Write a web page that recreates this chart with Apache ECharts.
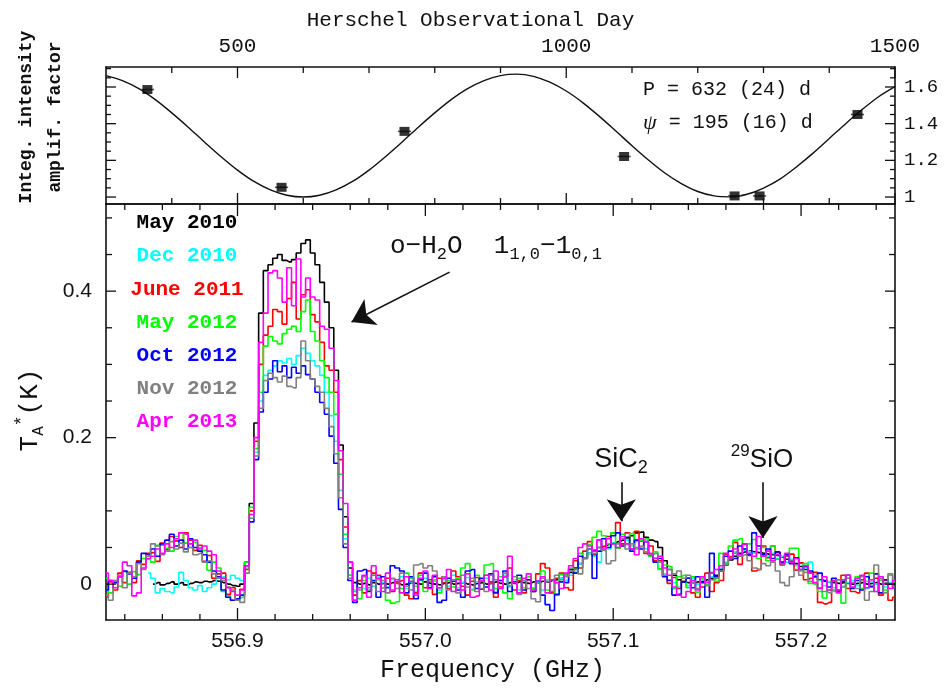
<!DOCTYPE html>
<html>
<head>
<meta charset="utf-8">
<script src="https://cdn.jsdelivr.net/npm/echarts@6.0.0/dist/echarts.min.js"></script>
<style>
  html, body { margin: 0; padding: 0; background: #ffffff; }
  #chart { width: 944px; height: 692px; }
</style>
</head>
<body>
<div id="chart"></div>
<script>
// ---------------------------------------------------------------------------
// Upper panel: integrated-intensity amplification factor vs. Herschel day
// ---------------------------------------------------------------------------
const obsDay    = [363, 567, 754, 1088, 1256, 1294, 1443];
const obsAmp    = [1.586, 1.053, 1.358, 1.221, 1.006, 1.006, 1.450];
const obsDayErr = [10, 10, 10, 10, 10, 10, 10];

// sinusoidal fit, sampled every 25 days
const fitDay = [300, 325, 350, 375, 400, 425, 450, 475, 500, 525, 550, 575, 600, 625, 650, 675,
                700, 725, 750, 775, 800, 825, 850, 875, 900, 925, 950, 975, 1000, 1025, 1050, 1075,
                1100, 1125, 1150, 1175, 1200, 1225, 1250, 1275, 1300, 1325, 1350, 1375, 1400, 1425,
                1450, 1475, 1500];
const fitAmp = [1.662, 1.635, 1.591, 1.531, 1.459, 1.381, 1.299, 1.220, 1.147, 1.085, 1.039, 1.010,
                1.000, 1.010, 1.039, 1.085, 1.147, 1.220, 1.299, 1.381, 1.459, 1.531, 1.591, 1.635,
                1.662, 1.670, 1.658, 1.626, 1.578, 1.515, 1.441, 1.361, 1.280, 1.202, 1.131, 1.073,
                1.030, 1.006, 1.001, 1.015, 1.049, 1.098, 1.164, 1.238, 1.319, 1.400, 1.477, 1.547,
                1.602];

const dayLabelTicks = [500, 1000, 1500];
const dayMinorTicks = [400, 600, 700, 800, 900, 1100, 1200, 1300, 1400];
const ampLabelTicks = [1, 1.2, 1.4, 1.6];
const ampMinorTicks = [1.05, 1.1, 1.15, 1.25, 1.3, 1.35, 1.45, 1.5, 1.55, 1.65, 1.7];

// ---------------------------------------------------------------------------
// Lower panel: HIFI spectra around the o-H2O 1(1,0)-1(0,1) line
// antenna temperature in mK, channels of 2.5 MHz starting at 556.830 GHz
// ---------------------------------------------------------------------------
const freqStart = 556.830;
const chanWidth = 0.0025;

const seriesNames  = ['May 2010', 'Dec 2010', 'June 2011', 'May 2012', 'Oct 2012', 'Nov 2012', 'Apr 2013'];
const seriesColors = ['#000000', '#00ffff', '#ff0000', '#00ff00', '#0000ff', '#808080', '#ff00ff'];

const may2010 = [
  null, null, null, null, null, null, null, null, null, null,
  0, 2, -1, 1, 3, 0, 2, -1, 1, 3,
  2, 4, 3, 5, 4, 2, 0, -2, -3, 0,
  30, 110, 220, 370, 428, 436, 445, 450, 442, 440,
  443, 452, 465, 470, 452, 436, 412, 385, 350, 292,
  190, 92, 22, 2, 0, 1, -1, 2, 0, 1,
  0, 2, 1, -1, 0, 2, 1, 0, 3, 1,
  0, -1, 1, 2, 0, 1, 2, 0, -1, 1,
  2, 0, 1, 3, 1, 0, 2, 1, 3, 2,
  1, 3, 2, 4, 3, 5, 6, 8, 12, 16,
  22, 28, 36, 42, 46, 50, 52, 54, 56, 58,
  60, 63, 66, 70, 71, 64, 60, 58, 50, 32,
  20, 12, 6, 3, 2, 2, 3, 4, 6, 8,
  12, 18, 26, 33, 38, 42, 44, 45, 44, 43,
  42, 41, 40, 39, 37, 34, 31, 28, 24, 20,
  15, 10, 6, 4, 3, 2, 1, 2, 1, 0,
  1, 2, 0, 1, 2, 0, 1, 0, 1
];
const dec2010 = [
  null, null, null, null, null, null, null, null, null, 15,
  8, -12, -6, -10, -12, -4, 16, 5, -5, -8,
  -2, -10, -5, 0, 8, 10, 6, 12, 8, 5,
  22, 95, 180, 250, 285, 292, 298, 305, 302, 308,
  300, 312, 322, 315, 305, 298, 285, 262, 230, 195,
  128, 62, 12, -8, 4, -6, 8, -3, 10, 2,
  -4, 6, 2, 10, -6, 3, -10, 5, 8, -2,
  4, -8, 6, -3, 12, -5, 2, 9, -7, 3,
  -6, 8, 2, -10, 5, 12, -4, 6, -8, 4,
  10, -5, 3, -8, 6, -12, 2, 8, 5, 12,
  20, 28, 35, 42, 38, 30, 52, 48, 56, 50,
  55, 60, 52, 58, 50, 48, 40, 36, 20, 14,
  6, 2, -4, 4, -2, 8, 0, 6, 3, 10,
  10, 22, 30, 38, 44, 40, 46, 44, 42, 48,
  40, 38, 42, 35, 38, 30, 34, 25, 28, 22,
  30, 10, 5, -2, 3, -5, 6, -3, 2, 5,
  -2, 4, -6, 3, 0, 6, -4, 2, 5
];
const june2011 = [
  -18, 3, -8, 15, 2, 16, 2, 32, 27, 42,
  43, 31, 56, 47, 65, 59, 50, 70, 60, 46,
  53, 31, 39, 8, 14, 15, -14, -5, -22, -7,
  20, 100, 195, 300, 340, 352, 375, 372, 355, 390,
  412, 362, 395, 402, 368, 358, 330, 298, 292, 262,
  170, 78, 30, -15, 5, -12, 18, 15, 12, -5,
  8, -10, 3, 5, -15, -20, -12, 15, -5, 6,
  -14, 8, 2, -6, 18, 10, -3, -15, 4, 9,
  -7, 12, 3, -18, -4, 10, 22, -8, 5, -12,
  6, -10, 14, 28, 22, -12, 8, 15, -5, -8,
  32, 22, 45, 58, 40, 60, 51, 65, 70, 84,
  55, 70, 48, 72, 59, 42, 52, 32, 32, 11,
  1, 9, -6, 4, 8, -12, -18, -4, 15, -10,
  2, 5, 41, 37, 57, 27, 54, 39, 18, 20,
  52, 36, 52, 43, 26, 38, 41, 19, 29, 6,
  8, 16, -25, -27, -25, 5, -8, 12, -6, -10,
  -12, 6, 15, -4, 8, -15, 5, -22, -18
];
const may2012 = [
  8, -12, 3, -3, 17, 0, 17, 13, 35, 34,
  30, 53, 53, 49, 45, 65, 70, 56, 50, 57,
  50, 46, 19, 30, 22, -10, -16, -22, -20, -18,
  30, 105, 185, 262, 325, 338, 332, 328, 342, 348,
  352, 345, 372, 388, 345, 332, 305, 282, 262, 232,
  150, 68, 12, -10, -20, 5, -8, 12, 6, -5,
  -22, -26, -24, -6, 15, 8, -3, 12, -10, 4,
  6, -12, 10, 5, -4, 8, 22, 28, -8, 12,
  5, 26, 28, -6, 10, -12, -20, 3, 8, -5,
  10, -6, 4, 18, -8, 6, -15, 13, 12, 22,
  16, 42, 36, 54, 64, 72, 66, 55, 70, 49,
  68, 54, 69, 48, 60, 62, 38, 44, 21, 26,
  24, -6, 10, 12, -5, 10, -11, 8, -1, 16,
  4, 42, 27, 52, 60, 62, 48, 55, 61, 35,
  50, 32, 52, 34, 28, 39, 49, 49, 18, 28,
  1, 0, -10, -19, -8, -10, 6, -26, 8, -4,
  10, -6, 4, 15, -10, 5, -8, 12, 3
];
const oct2012 = [
  -8, 5, 2, 10, 18, 14, 8, 30, 42, 40,
  48, 38, 55, 60, 68, 52, 60, 48, 62, 50,
  45, 40, 30, 18, 10, -8, -18, -22, -20, -15,
  25, 85, 170, 235, 262, 280, 305, 290, 298, 282,
  296, 288, 298, 286, 280, 262, 248, 232, 202, 165,
  102, 50, 5, -25, 18, 20, -10, 5, -18, 10,
  -5, 25, 22, 18, -12, 10, -20, 6, 15, -5,
  10, -25, -22, 8, 4, -8, -18, 18, 20, -6,
  8, -4, 14, -12, 5, 18, -10, 3, 12, -8,
  6, -10, 4, -15, -28, -36, -14, 3, 2, 20,
  15, 38, 35, 48, 8, 45, 62, 50, 66, 70,
  52, 64, 45, 60, 48, 58, 40, 30, 35, 10,
  5, -15, -14, 3, 8, -5, 10, 2, -18, 42,
  10, 20, 38, 45, 35, 52, 48, 40, 70, 52,
  40, 48, 35, 44, 30, 40, 28, 36, 20, 24,
  18, 10, 15, 5, -4, 8, -10, 4, 12, -6,
  5, -8, 10, -3, 14, -12, 6, 0, -5
];
const nov2012 = [
  -15, -22, 5, 12, -5, 15, 10, 28, 20, 38,
  55, 52, 40, 45, 58, 48, 56, 44, 50, 40,
  42, 30, 32, 14, 8, 5, -4, -8, -22, -25,
  15, 90, 175, 240, 278, 288, 282, 276, 284, 270,
  268, 282, 332, 305, 280, 270, 262, 240, 215, 178,
  118, 55, 8, -22, -8, 10, -5, 12, -10, 5,
  -12, 8, -6, 15, -3, -8, 26, 28, 22, 25,
  18, -5, 10, -8, 6, -12, 12, -4, 8, -10,
  4, -10, 12, 6, -6, 15, -2, 10, -14, 5,
  -6, -20, -24, 8, 4, -10, 12, 6, 10, 18,
  20, 14, 35, 48, 42, 50, 46, 28, 32, 55,
  62, 48, 55, 50, 52, 44, 40, 42, 30, 12,
  20, 14, 18, 8, 12, 2, -6, 10, -2, 6,
  8, 18, 28, 35, 42, 38, 40, 32, 22, 20,
  28, 25, 30, 18, 2, -2, 10, 20, 12, 16,
  4, 12, -5, -10, -12, -8, 6, -4, 8, 2,
  -6, 10, -22, -10, 26, 8, -12, 14, -4
];
const apr2013 = [
  15, 5, -5, 10, 30, 25, -16, -12, 22, 35,
  38, 48, 42, 55, 50, 62, 70, 68, 55, 60,
  48, 52, 45, 40, 18, 8, -5, -10, -15, -8,
  25, 95, 200, 330, 370, 425, 428, 418, 385, 432,
  380, 444, 392, 418, 392, 388, 352, 348, 322, 278,
  182, 110, 30, -22, -5, 12, -18, 25, 8, -10,
  15, -8, 6, -12, 10, 4, -15, 8, 18, -6,
  12, -5, 8, 20, -10, 6, -8, 14, -18, -16,
  5, 12, -8, 18, -6, 10, 38, 2, -12, 8,
  14, -8, 4, 10, -12, 6, 2, -6, 15, 25,
  35, 50, 55, 52, 45, 60, 48, 62, 55, 50,
  65, 55, 48, 40, 62, 58, 42, 35, 38, 22,
  12, -4, -15, -18, -10, 5, -8, 10, 2, 15,
  20, 25, 42, 36, 48, 40, 55, 42, 38, 65,
  38, 45, 32, 40, 28, 42, 30, 35, 20, 25,
  15, 2, -6, 10, -8, 4, -12, 6, 12, -4,
  8, 12, -5, 6, -10, 10, 0, -6, 5
];
const spectra = [may2010, dec2010, june2011, may2012, oct2012, nov2012, apr2013];

const freqLabelTicks = [556.9, 557.0, 557.1, 557.2];
const freqMinorTicks = [556.84, 556.86, 556.88, 556.92, 556.94, 556.96, 556.98,
                        557.02, 557.04, 557.06, 557.08, 557.12, 557.14, 557.16, 557.18,
                        557.22, 557.24];
const tempLabelTicks = [0, 0.2, 0.4];
const tempMinorTicks = [0.05, 0.1, 0.15, 0.25, 0.3, 0.35, 0.45, 0.5];

// ---------------------------------------------------------------------------
const MONO = '"Liberation Mono", "DejaVu Sans Mono", monospace';
const SANS = '"Liberation Sans", Arial, sans-serif';
const SERIF = '"Liberation Serif", "DejaVu Serif", serif';
const INK = '#111111';

const dayRange  = { min: 300, max: 1500 };
const ampRange  = { min: 0.962, max: 1.709 };
const freqRange = { min: 556.83, max: 557.25 };
const tempRange = { min: -0.049, max: 0.519 };

function frameAxis(extra) {
  return Object.assign({
    type: 'value',
    axisLine: { show: true, onZero: false, lineStyle: { color: INK, width: 1.6 } },
    axisTick: { show: false },
    axisLabel: { show: false },
    splitLine: { show: false },
    minorTick: { show: false },
    minorSplitLine: { show: false }
  }, extra);
}

// axis indices: x0 days (top), x1 days (bottom of upper panel), x2 freq (bottom), x3 freq (top)
//               y0 amp (left), y1 amp (right), y2 T (left), y3 T (right)
const xAxes = [
  frameAxis(Object.assign({
    gridIndex: 0, position: 'top',
    axisLabel: { show: true, customValues: dayLabelTicks, margin: 10, formatter: v => String(v),
                 fontFamily: MONO, fontSize: 21, color: INK },
    name: 'Herschel Observational Day', nameLocation: 'middle', nameGap: 36,
    nameTextStyle: { fontFamily: MONO, fontSize: 21, color: INK, padding: [0, 60, 0, 0] }
  }, dayRange)),
  frameAxis(Object.assign({ gridIndex: 0, position: 'bottom' }, dayRange)),
  frameAxis(Object.assign({
    gridIndex: 1, position: 'bottom',
    axisLabel: { show: true, customValues: freqLabelTicks, margin: 11,
                 formatter: v => Number(v).toFixed(1),
                 fontFamily: SANS, fontSize: 21, color: INK },
    name: 'Frequency (GHz)', nameLocation: 'middle', nameGap: 38,
    nameTextStyle: { fontFamily: MONO, fontSize: 25, color: INK, padding: [0, 16, 0, 0] }
  }, freqRange)),
  frameAxis(Object.assign({ gridIndex: 1, position: 'top' }, freqRange))
];

const yAxes = [
  frameAxis(Object.assign({ gridIndex: 0, position: 'left' }, ampRange)),
  frameAxis(Object.assign({
    gridIndex: 0, position: 'right',
    axisLabel: { show: true, customValues: ampLabelTicks, margin: 9,
                 fontFamily: MONO, fontSize: 19, color: INK }
  }, ampRange)),
  frameAxis(Object.assign({
    gridIndex: 1, position: 'left',
    axisLabel: { show: true, customValues: tempLabelTicks, margin: 14,
                 formatter: v => (Number(v) === 0 ? '0' : String(v)),
                 fontFamily: SANS, fontSize: 21, color: INK }
  }, tempRange)),
  frameAxis(Object.assign({ gridIndex: 1, position: 'right' }, tempRange))
];

// inward tick marks on both opposite borders of a panel
function tickSeries(xIdx, yIdx, values, len, orient, crossRange) {
  return {
    type: 'custom', xAxisIndex: xIdx, yAxisIndex: yIdx, silent: true, z: 20,
    data: values.map(v => (orient === 'x' ? [v, crossRange.min] : [crossRange.min, v])),
    encode: { x: 0, y: 1 },
    renderItem: (params, api) => {
      const style = { stroke: INK, lineWidth: 1.3 };
      if (orient === 'x') {
        const v = api.value(0);
        const lo = api.coord([v, crossRange.min]);
        const hi = api.coord([v, crossRange.max]);
        return { type: 'group', children: [
          { type: 'line', shape: { x1: lo[0], y1: lo[1], x2: lo[0], y2: lo[1] - len }, style },
          { type: 'line', shape: { x1: hi[0], y1: hi[1], x2: hi[0], y2: hi[1] + len }, style }
        ] };
      }
      const v = api.value(1);
      const lf = api.coord([crossRange.min, v]);
      const rt = api.coord([crossRange.max, v]);
      return { type: 'group', children: [
        { type: 'line', shape: { x1: lf[0], y1: lf[1], x2: lf[0] + len, y2: lf[1] }, style },
        { type: 'line', shape: { x1: rt[0], y1: rt[1], x2: rt[0] - len, y2: rt[1] }, style }
      ] };
    }
  };
}

const tickMarks = [
  tickSeries(0, 0, dayLabelTicks, 11, 'x', ampRange),
  tickSeries(0, 0, dayMinorTicks, 6, 'x', ampRange),
  tickSeries(0, 0, ampLabelTicks, 10, 'y', dayRange),
  tickSeries(0, 0, ampMinorTicks, 5, 'y', dayRange),
  tickSeries(2, 2, freqLabelTicks, 12, 'x', tempRange),
  tickSeries(2, 2, freqMinorTicks, 6, 'x', tempRange),
  tickSeries(2, 2, tempLabelTicks, 10, 'y', freqRange),
  tickSeries(2, 2, tempMinorTicks, 6, 'y', freqRange)
];

// channel centre frequencies and spectra in K
function spectrumData(mK) {
  const out = [];
  mK.forEach((v, i) => {
    if (v !== null) out.push([+(freqStart + i * chanWidth).toFixed(4), v / 1000]);
  });
  return out;
}

const spectrumSeries = spectra.map((arr, k) => ({
  name: seriesNames[k],
  type: 'line',
  xAxisIndex: 2,
  yAxisIndex: 2,
  step: 'middle',
  showSymbol: false,
  symbol: 'none',
  data: spectrumData(arr),
  lineStyle: { color: seriesColors[k], width: 1.6 },
  itemStyle: { color: seriesColors[k] },
  z: 3 + k,
  silent: true
}));

// arrows pointing at the three lines
spectrumSeries[0].markLine = {
  silent: true,
  symbol: ['none', 'arrow'],
  symbolSize: 22,
  label: { show: false },
  lineStyle: { color: INK, width: 1.6, type: 'solid' },
  itemStyle: { color: INK },
  data: [
    [{ coord: [557.0129, 0.426] }, { coord: [556.9607, 0.358] }],
    [{ coord: [557.1043, 0.139] }, { coord: [557.1043, 0.086] }],
    [{ coord: [557.1797, 0.139] }, { coord: [557.1797, 0.063] }]
  ]
};

const legendGraphics = seriesNames.map((n, k) => ({
  type: 'text', x: 187, y: 223 + 33.2 * k, z: 100,
  style: { text: n, fill: seriesColors[k], font: 'bold 21px ' + MONO, align: 'center', verticalAlign: 'middle' }
}));

const option = {
  backgroundColor: '#ffffff',
  animation: false,
  grid: [
    { left: 106, right: 49, top: 67, height: 137, containLabel: false },
    { left: 106, right: 49, top: 204, height: 416, containLabel: false }
  ],
  xAxis: xAxes,
  yAxis: yAxes,
  series: [
    {
      name: 'fit', type: 'line', xAxisIndex: 0, yAxisIndex: 0,
      data: fitDay.map((d, i) => [d, fitAmp[i]]),
      smooth: 0.3, showSymbol: false, symbol: 'none',
      lineStyle: { color: INK, width: 1.4 }, z: 2, silent: true
    },
    {
      name: 'error', type: 'custom', xAxisIndex: 0, yAxisIndex: 0,
      data: obsDay.map((d, i) => [d, obsAmp[i], obsDayErr[i]]),
      encode: { x: 0, y: 1 },
      renderItem: (params, api) => {
        const a = api.coord([api.value(0) - api.value(2), api.value(1)]);
        const b = api.coord([api.value(0) + api.value(2), api.value(1)]);
        return { type: 'line', shape: { x1: a[0], y1: a[1], x2: b[0], y2: b[1] },
                 style: { stroke: '#555555', lineWidth: 1.6 } };
      },
      z: 3, silent: true
    },
    {
      name: 'amplification', type: 'scatter', xAxisIndex: 0, yAxisIndex: 0,
      data: obsDay.map((d, i) => [d, obsAmp[i]]),
      symbol: 'rect', symbolSize: [10, 9],
      itemStyle: { color: '#000000' }, z: 4, silent: true
    }
  ].concat(spectrumSeries, tickMarks),
  graphic: [
    // left titles
    { type: 'text', x: 26, y: 117, rotation: Math.PI / 2,
      style: { text: 'Integ. intensity', font: 'bold 18px ' + MONO, fill: INK, align: 'center', verticalAlign: 'middle' } },
    { type: 'text', x: 55, y: 117, rotation: Math.PI / 2,
      style: { text: 'amplif. factor', font: 'bold 18px ' + MONO, fill: INK, align: 'center', verticalAlign: 'middle' } },
    { type: 'text', x: 30, y: 410, rotation: Math.PI / 2,
      style: {
        text: '{t|T}{s|A}{u|*}{t|(K)}', align: 'center', verticalAlign: 'middle',
        rich: {
          t: { fontFamily: MONO, fontSize: 26, fill: INK, lineHeight: 34, verticalAlign: 'middle' },
          s: { fontFamily: MONO, fontSize: 16, fill: INK, lineHeight: 16, verticalAlign: 'bottom' },
          u: { fontFamily: MONO, fontSize: 18, fill: INK, lineHeight: 18, verticalAlign: 'top' }
        }
      } },
    // fit parameters
    { type: 'text', x: 643, y: 90,
      style: { text: 'P = 632 (24) d', font: '20px ' + MONO, fill: INK, align: 'left', verticalAlign: 'middle' } },
    { type: 'text', x: 643, y: 123,
      style: {
        text: '{g|ψ}{m| = 195 (16) d}', align: 'left', verticalAlign: 'middle',
        rich: {
          g: { fontFamily: SERIF, fontSize: 22, fontStyle: 'italic', fill: INK },
          m: { fontFamily: MONO, fontSize: 20, fill: INK }
        }
      } },
    // line identifications
    { type: 'text', x: 390, y: 246,
      style: {
        text: '{m|o−H}{s|2}{m|O  1}{s|1,0}{m|−1}{s|0,1}', align: 'left', verticalAlign: 'middle',
        rich: {
          m: { fontFamily: MONO, fontSize: 26, fill: INK, lineHeight: 34, verticalAlign: 'middle' },
          s: { fontFamily: MONO, fontSize: 17, fill: INK, lineHeight: 17, verticalAlign: 'bottom' }
        }
      } },
    { type: 'text', x: 621, y: 460,
      style: {
        text: '{m|SiC}{s|2}', align: 'center', verticalAlign: 'middle',
        rich: {
          m: { fontFamily: SANS, fontSize: 27, fill: INK, lineHeight: 34, verticalAlign: 'middle' },
          s: { fontFamily: SANS, fontSize: 18, fill: INK, lineHeight: 18, verticalAlign: 'bottom' }
        }
      } },
    { type: 'text', x: 762, y: 460,
      style: {
        text: '{u|29}{m|SiO}', align: 'center', verticalAlign: 'middle',
        rich: {
          m: { fontFamily: SANS, fontSize: 26, fill: INK, lineHeight: 34, verticalAlign: 'middle' },
          u: { fontFamily: SANS, fontSize: 17, fill: INK, lineHeight: 17, verticalAlign: 'top' }
        }
      } }
  ].concat(legendGraphics)
};

const chart = echarts.init(document.getElementById('chart'), null, { renderer: 'canvas' });
chart.setOption(option);
</script>
</body>
</html>
